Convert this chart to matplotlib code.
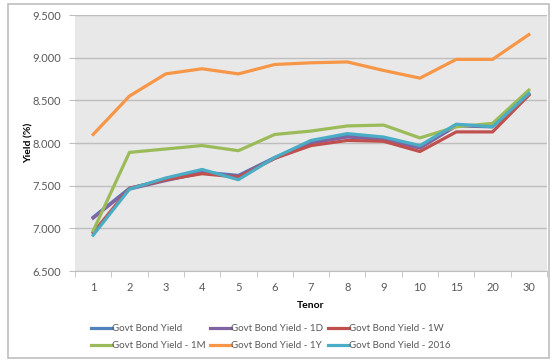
import matplotlib
matplotlib.use("Agg")
import matplotlib.pyplot as plt
from matplotlib.patches import Rectangle

plt.rcParams['font.family'] = ['Lato', 'DejaVu Sans']

tenor = ['1', '2', '3', '4', '5', '6', '7', '8', '9', '10', '15', '20', '30']

govt = [7.13, 7.47, 7.57, 7.66, 7.62, 7.83, 8.01, 8.08, 8.05, 7.95, 8.21, 8.20, 8.57]
govt_1d = [7.12, 7.46, 7.56, 7.65, 7.61, 7.82, 8.00, 8.07, 8.04, 7.94, 8.20, 8.19, 8.57]
govt_1w = [6.95, 7.47, 7.57, 7.64, 7.60, 7.82, 7.97, 8.03, 8.02, 7.90, 8.13, 8.13, 8.56]
govt_1m = [6.97, 7.89, 7.93, 7.97, 7.91, 8.10, 8.14, 8.20, 8.21, 8.06, 8.19, 8.23, 8.62]
govt_1y = [8.10, 8.55, 8.81, 8.87, 8.81, 8.92, 8.94, 8.95, 8.85, 8.76, 8.98, 8.98, 9.27]
govt_2016 = [6.92, 7.46, 7.59, 7.69, 7.57, 7.83, 8.03, 8.11, 8.07, 7.97, 8.22, 8.19, 8.58]

series = [
    ('Govt Bond Yield', govt, '#4F81BD'),
    ('Govt Bond Yield - 1D', govt_1d, '#8064A2'),
    ('Govt Bond Yield - 1W', govt_1w, '#C0504D'),
    ('Govt Bond Yield - 1M', govt_1m, '#9BBB59'),
    ('Govt Bond Yield - 1Y', govt_1y, '#F79646'),
    ('Govt Bond Yield - 2016', govt_2016, '#4BACC6'),
]

fig = plt.figure(figsize=(5.52, 3.6), dpi=100)
fig.patches.append(Rectangle((8 / 552, 0.005), 541 / 552, 0.985, transform=fig.transFigure,
                             fill=False, edgecolor='#BFBFBF', linewidth=1.2))
ax = fig.add_axes([75 / 552, 1 - 271 / 360, 472 / 552, 256 / 360])
ax.set_facecolor('#E8E8E8')

x = range(len(tenor))
handles = []
for name, vals, col in series:
    ln, = ax.plot(x, vals, color=col, linewidth=2.3, label=name, solid_joinstyle='round')
    handles.append(ln)

ax.set_xlim(-0.5, len(tenor) - 0.5)
ax.set_ylim(6.5, 9.5)
yt = [6.5, 7.0, 7.5, 8.0, 8.5, 9.0, 9.5]
ax.set_yticks(yt)
ax.set_yticklabels(['%.3f' % v for v in yt])
ax.set_xticks(list(x))
ax.set_xticklabels(tenor)
ax.set_xticks([i - 0.5 for i in range(len(tenor) + 1)], minor=True)
ax.tick_params(axis='x', which='major', length=0, pad=8)
ax.tick_params(axis='x', which='minor', length=4, color='#BFBFBF')
ax.tick_params(axis='y', length=4, color='#BFBFBF', pad=6)
ax.tick_params(labelsize=8, labelcolor='#595959')

ax.grid(axis='y', color='#BEBEBE', linewidth=1)
ax.set_axisbelow(True)
for s in ['top', 'right', 'left']:
    ax.spines[s].set_visible(False)
ax.spines['bottom'].set_color('#BFBFBF')

ax.set_xlabel('Tenor', fontsize=7.5, fontweight='bold', labelpad=6)
ax.set_ylabel('Yield (%)', fontsize=7.5, fontweight='bold', labelpad=-1)

# legend filled row by row: 3 per row
order = [0, 3, 1, 4, 2, 5]
fig.legend([handles[i] for i in order], [series[i][0] for i in order],
           loc='center', bbox_to_anchor=(0.49, 0.063), ncol=3, frameon=False,
           fontsize=7, handlelength=2.15, handletextpad=0.0, columnspacing=0.5,
           labelspacing=0.85, labelcolor='#595959')

fig.savefig('out.png', dpi=100)
